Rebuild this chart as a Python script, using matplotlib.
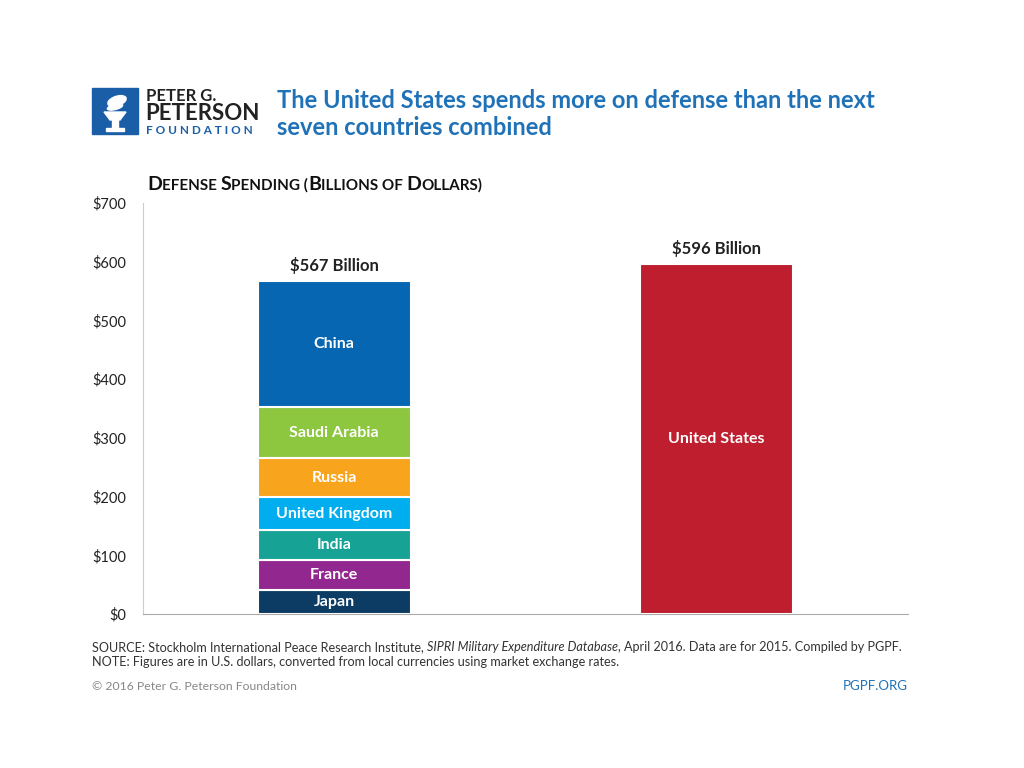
import matplotlib.pyplot as plt
from matplotlib.patches import Rectangle, Polygon, Ellipse

countries = ['Japan', 'France', 'India', 'United Kingdom', 'Russia', 'Saudi Arabia', 'China']
spending = [41, 51, 51, 56, 66, 87, 215]
seg_colors = ['#0c3b63', '#92278f', '#16a396', '#00aeef', '#f8a51d', '#8dc63f', '#0766b1']
us_spending = 596
bar_labels = ['$567 Billion', '$596 Billion']
yticks = [0, 100, 200, 300, 400, 500, 600, 700]

plt.rcParams['font.family'] = ['Lato', 'DejaVu Sans']

fig = plt.figure(figsize=(10.24, 7.68), dpi=100)
ax = fig.add_axes([143 / 1024, 1 - 614 / 768, 765 / 1024, 411 / 768])

bottom = 0
for name, val, col in zip(countries, spending, seg_colors):
    ax.bar(0, val, bottom=bottom, width=0.4, color=col, edgecolor='white', linewidth=1.5)
    ax.text(0, bottom + val / 2, name, ha='center', va='center', color='white',
            fontsize=11.5, fontweight='bold')
    bottom += val
ax.bar(1, us_spending, width=0.4, color='#be1e2d', edgecolor='white', linewidth=1.5)
ax.text(1, us_spending / 2, 'United States', ha='center', va='center', color='white',
        fontsize=11.5, fontweight='bold')

ax.text(0, sum(spending) + 12, bar_labels[0], ha='center', va='bottom', fontsize=12,
        fontweight='bold', color='#222222')
ax.text(1, us_spending + 12, bar_labels[1], ha='center', va='bottom', fontsize=12,
        fontweight='bold', color='#222222')

ax.set_xlim(-0.5, 1.5)
ax.set_ylim(0, 700)
ax.set_yticks(yticks)
ax.set_yticklabels([f'${v}' for v in yticks], fontsize=10.5, color='#222222')
ax.set_xticks([])
ax.tick_params(axis='y', length=0, pad=12)
for s in ['top', 'right']:
    ax.spines[s].set_visible(False)
ax.spines['left'].set_color('#cccccc')
ax.spines['bottom'].set_color('#aaaaaa')

renderer = fig.canvas.get_renderer()

# subtitle in small caps style
x = 147 / 1024
y = 1 - 190 / 768
parts = [('D', 14), ('EFENSE ', 11), ('S', 14), ('PENDING (', 11), ('B', 14), ('ILLIONS OF ', 11),
         ('D', 14), ('OLLARS)', 11)]
for txt, size in parts:
    t = fig.text(x, y, txt, fontsize=size, fontweight='bold', color='#111111', va='baseline')
    bb = t.get_window_extent(renderer=renderer)
    x += bb.width / 1024

# title
fig.text(277 / 1024, 1 - 114 / 768, 'The United States spends more on defense than the next\nseven countries combined',
         fontsize=17, fontweight='bold', color='#1f72b8', va='center', linespacing=1.25)

# logo
fig.patches.append(Rectangle((92 / 1024, 1 - 134 / 768), 46 / 1024, 46 / 768,
                             transform=fig.transFigure, color='#1a5ea8'))
fig.patches.append(Polygon([(104 / 1024, 1 - 112 / 768), (126 / 1024, 1 - 112 / 768),
                            (120 / 1024, 1 - 120 / 768), (110 / 1024, 1 - 120 / 768)],
                           closed=True, transform=fig.transFigure, color='white'))
fig.patches.append(Rectangle((112 / 1024, 1 - 128 / 768), 6 / 1024, 8 / 768,
                             transform=fig.transFigure, color='white'))
fig.patches.append(Rectangle((106 / 1024, 1 - 131 / 768), 18 / 1024, 3 / 768,
                             transform=fig.transFigure, color='white'))
fig.patches.append(Ellipse((117 / 1024, 1 - 101 / 768), 20 / 1024, 9 / 768, angle=30,
                           transform=fig.transFigure, color='white'))
fig.patches.append(Ellipse((115 / 1024, 1 - 107 / 768), 16 / 1024, 5 / 768, angle=20,
                           transform=fig.transFigure, color='white'))
fig.text(146 / 1024, 1 - 96 / 768, 'PETER G.', fontsize=12, fontweight='bold', color='#222222', va='center')
fig.text(145 / 1024, 1 - 114 / 768, 'PETERSON', fontsize=16, fontweight='bold', color='#222222', va='center')
fig.text(146 / 1024, 1 - 130 / 768, 'F O U N D A T I O N', fontsize=8.5, color='#1a5ea8',
         fontweight='bold', va='center')

# footer
fs = 9.1
t1 = fig.text(92 / 1024, 1 - 647 / 768, 'SOURCE: Stockholm International Peace Research Institute, ',
              fontsize=fs, color='#333333', va='center')
bb = t1.get_window_extent(renderer=renderer)
x2 = 92 / 1024 + bb.width / 1024
t2 = fig.text(x2, 1 - 647 / 768, 'SIPRI Military Expenditure Database', fontsize=fs, style='italic',
              color='#333333', va='center')
bb = t2.get_window_extent(renderer=renderer)
x3 = x2 + (bb.width + 0.5) / 1024
fig.text(x3, 1 - 647 / 768, ', April 2016. Data are for 2015. Compiled by PGPF.', fontsize=fs,
         color='#333333', va='center')
fig.text(92 / 1024, 1 - 662 / 768,
         'NOTE: Figures are in U.S. dollars, converted from local currencies using market exchange rates.',
         fontsize=fs, color='#333333', va='center')
fig.text(92 / 1024, 1 - 686 / 768, '\u00a9 2016 Peter G. Peterson Foundation', fontsize=8.8,
         color='#888888', va='center')
fig.text(908 / 1024, 1 - 686 / 768, 'PGPF.ORG', fontsize=9.5, color='#1f72b8', ha='right', va='center')

fig.savefig('out.png', dpi=100, facecolor='white')
